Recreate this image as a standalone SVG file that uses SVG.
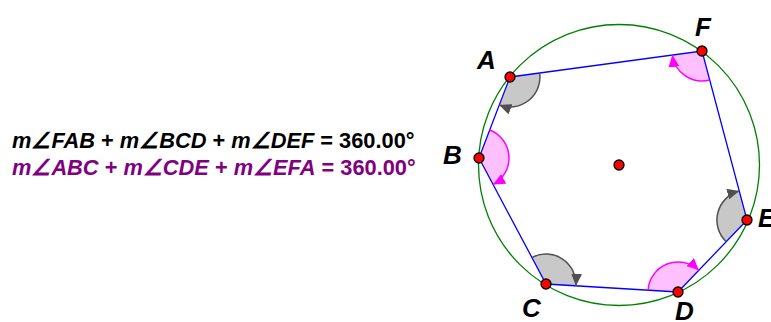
<svg xmlns="http://www.w3.org/2000/svg" width="771" height="322" viewBox="0 0 771 322">
<style>
  text { font-family: "Liberation Sans", Arial, sans-serif; font-weight: bold; }
  .lbl { font-size: 26px; font-style: italic; fill: #000; }
  .eq { font-size: 21.8px; }
  .it { font-style: italic; }
  .pt { fill: #ff0000; stroke: #000; stroke-width: 1.3; }
  .edge { stroke: #0000ff; stroke-width: 1.3; fill: none; }
  .gsec { fill: #c8c8c8; stroke: none; }
  .psec { fill: #ffc0ff; stroke: none; }
  .garc { fill: none; stroke: #505050; stroke-width: 1.5; marker-end: url(#ag); }
  .parc { fill: none; stroke: #ff00ff; stroke-width: 1.5; marker-end: url(#ap); }
</style>
<defs>
  <marker id="ag" markerUnits="userSpaceOnUse" viewBox="0 0 13 11" markerWidth="13" markerHeight="11" refX="12" refY="5.5" orient="auto">
    <path d="M0,0 L12,5.5 L0,11 Z" fill="#505050"/>
  </marker>
  <marker id="ap" markerUnits="userSpaceOnUse" viewBox="0 0 13 11" markerWidth="13" markerHeight="11" refX="12" refY="5.5" orient="auto">
    <path d="M0,0 L12,5.5 L0,11 Z" fill="#ff00ff"/>
  </marker>
</defs>

<g id="equations">
  <text class="eq" x="12" y="148" fill="#000"><tspan class="it">m∠FAB</tspan> + <tspan class="it">m∠BCD</tspan> + <tspan class="it">m∠DEF</tspan> = 360.00°</text>
  <text class="eq" x="12" y="175" fill="#800080"><tspan class="it">m∠ABC</tspan> + <tspan class="it">m∠CDE</tspan> + <tspan class="it">m∠EFA</tspan> = 360.00°</text>
</g>

<g id="circle">
  <circle cx="619" cy="165" r="140.5" fill="none" stroke="#008000" stroke-width="1.3"/>
</g>

<g id="angle-sectors">
  <path class="gsec" d="M510,77 L539.7,73 A30,30 0 0 1 499.3,105 Z"/>
  <path class="psec" d="M479,158 L489.7,130 A30,30 0 0 1 493.1,184.5 Z"/>
  <path class="gsec" d="M546,284 L531.9,257.5 A30,30 0 0 1 575.9,285.8 Z"/>
  <path class="psec" d="M678,292 L648.1,290.2 A30,30 0 0 1 698.8,270.3 Z"/>
  <path class="gsec" d="M747,220 L726.2,241.7 A30,30 0 0 1 739.3,191 Z"/>
  <path class="psec" d="M702,51 L709.7,80 A30,30 0 0 1 672.3,55 Z"/>
</g>

<g id="connectors">
  <path class="edge" d="M510,77 L702,51 L747,220 L678,292 L546,284 L479,158 Z"/>
</g>

<g id="angle-arcs">
  <path class="garc" d="M539.7,73 A30,30 0 0 1 499.3,105"/>
  <path class="parc" d="M489.7,130 A30,30 0 0 1 493.1,184.5"/>
  <path class="garc" d="M531.9,257.5 A30,30 0 0 1 575.9,285.8"/>
  <path class="parc" d="M648.1,290.2 A30,30 0 0 1 698.8,270.3"/>
  <path class="garc" d="M726.2,241.7 A30,30 0 0 1 739.3,191"/>
  <path class="parc" d="M709.7,80 A30,30 0 0 1 672.3,55"/>
</g>

<g id="node-A"><circle class="pt" cx="510" cy="77" r="5"/><text class="lbl" x="477" y="69">A</text></g>
<g id="node-B"><circle class="pt" cx="479" cy="158" r="5"/><text class="lbl" x="443" y="164">B</text></g>
<g id="node-C"><circle class="pt" cx="546" cy="284" r="5"/><text class="lbl" x="522" y="317">C</text></g>
<g id="node-D"><circle class="pt" cx="678" cy="292" r="5"/><text class="lbl" x="675" y="320">D</text></g>
<g id="node-E"><circle class="pt" cx="747" cy="220" r="5"/><text class="lbl" x="758" y="227">E</text></g>
<g id="node-F"><circle class="pt" cx="702" cy="51" r="5"/><text class="lbl" x="695" y="36">F</text></g>
<g id="node-O"><circle class="pt" cx="619" cy="165" r="5"/></g>
</svg>
